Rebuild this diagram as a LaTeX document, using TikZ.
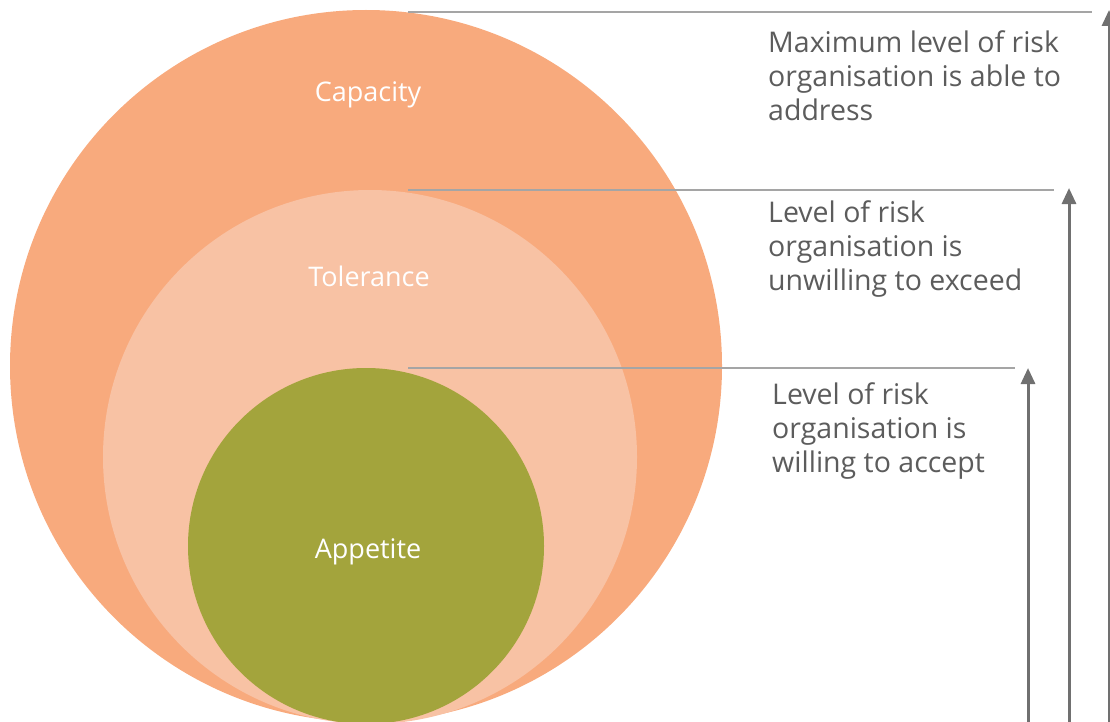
\documentclass[tikz,border=0pt]{standalone}
\usepackage{fontspec}
\setmainfont{Open Sans}
\usetikzlibrary{arrows.meta}
\definecolor{capc}{RGB}{248,170,125}
\definecolor{tolc}{RGB}{248,194,164}
\definecolor{appc}{RGB}{163,164,60}
\definecolor{linec}{RGB}{165,165,165}
\definecolor{arrc}{RGB}{112,112,112}
\definecolor{txtc}{RGB}{92,92,92}
\begin{document}
\begin{tikzpicture}[x=1pt,y=-1pt,
  circlabel/.style={text=white,font=\fontsize{27}{30}\selectfont,inner sep=0pt},
  desc/.style={text=txtc,font=\fontsize{28.5}{34}\selectfont,align=left,anchor=west,inner sep=0pt},
  level/.style={draw=linec,line width=2pt},
  uparrow/.style={draw=arrc,line width=3pt,-{Triangle[length=16pt,width=14pt]}}]
\useasboundingbox (0,0) rectangle (1110,722);
\clip (0,0) rectangle (1110,722);
\fill[capc] (366,366) circle (356);
\fill[tolc] (370,457) circle (267);
\fill[appc] (366,546) circle (178);
\node[circlabel] (cap) at (368,95) {Capacity};
\node[circlabel] (tol) at (369,276) {Tolerance};
\node[circlabel] (app) at (368,552) {Appetite};
\coordinate (l1a) at (408,12); \coordinate (l1b) at (1092,12);
\coordinate (l2a) at (408,190); \coordinate (l2b) at (1054,190);
\coordinate (l3a) at (408,368); \coordinate (l3b) at (1015,368);
\draw[level] (l1a) -- (l1b);
\draw[level] (l2a) -- (l2b);
\draw[level] (l3a) -- (l3b);
\coordinate (a1s) at (1109,730); \coordinate (a1e) at (1109,10);
\coordinate (a2s) at (1069,730); \coordinate (a2e) at (1069,188);
\coordinate (a3s) at (1028,730); \coordinate (a3e) at (1028,368);
\draw[uparrow] (a1s) -- (a1e);
\draw[uparrow] (a2s) -- (a2e);
\draw[uparrow] (a3s) -- (a3e);
\node[desc] (d1) at (768,76) {Maximum level of risk\\organisation is able to\\address};
\node[desc] (d2) at (768,249) {Level of risk\\organisation is\\unwilling to exceed};
\node[desc] (d3) at (772,431) {Level of risk\\organisation is\\willing to accept};
\end{tikzpicture}
\end{document}
